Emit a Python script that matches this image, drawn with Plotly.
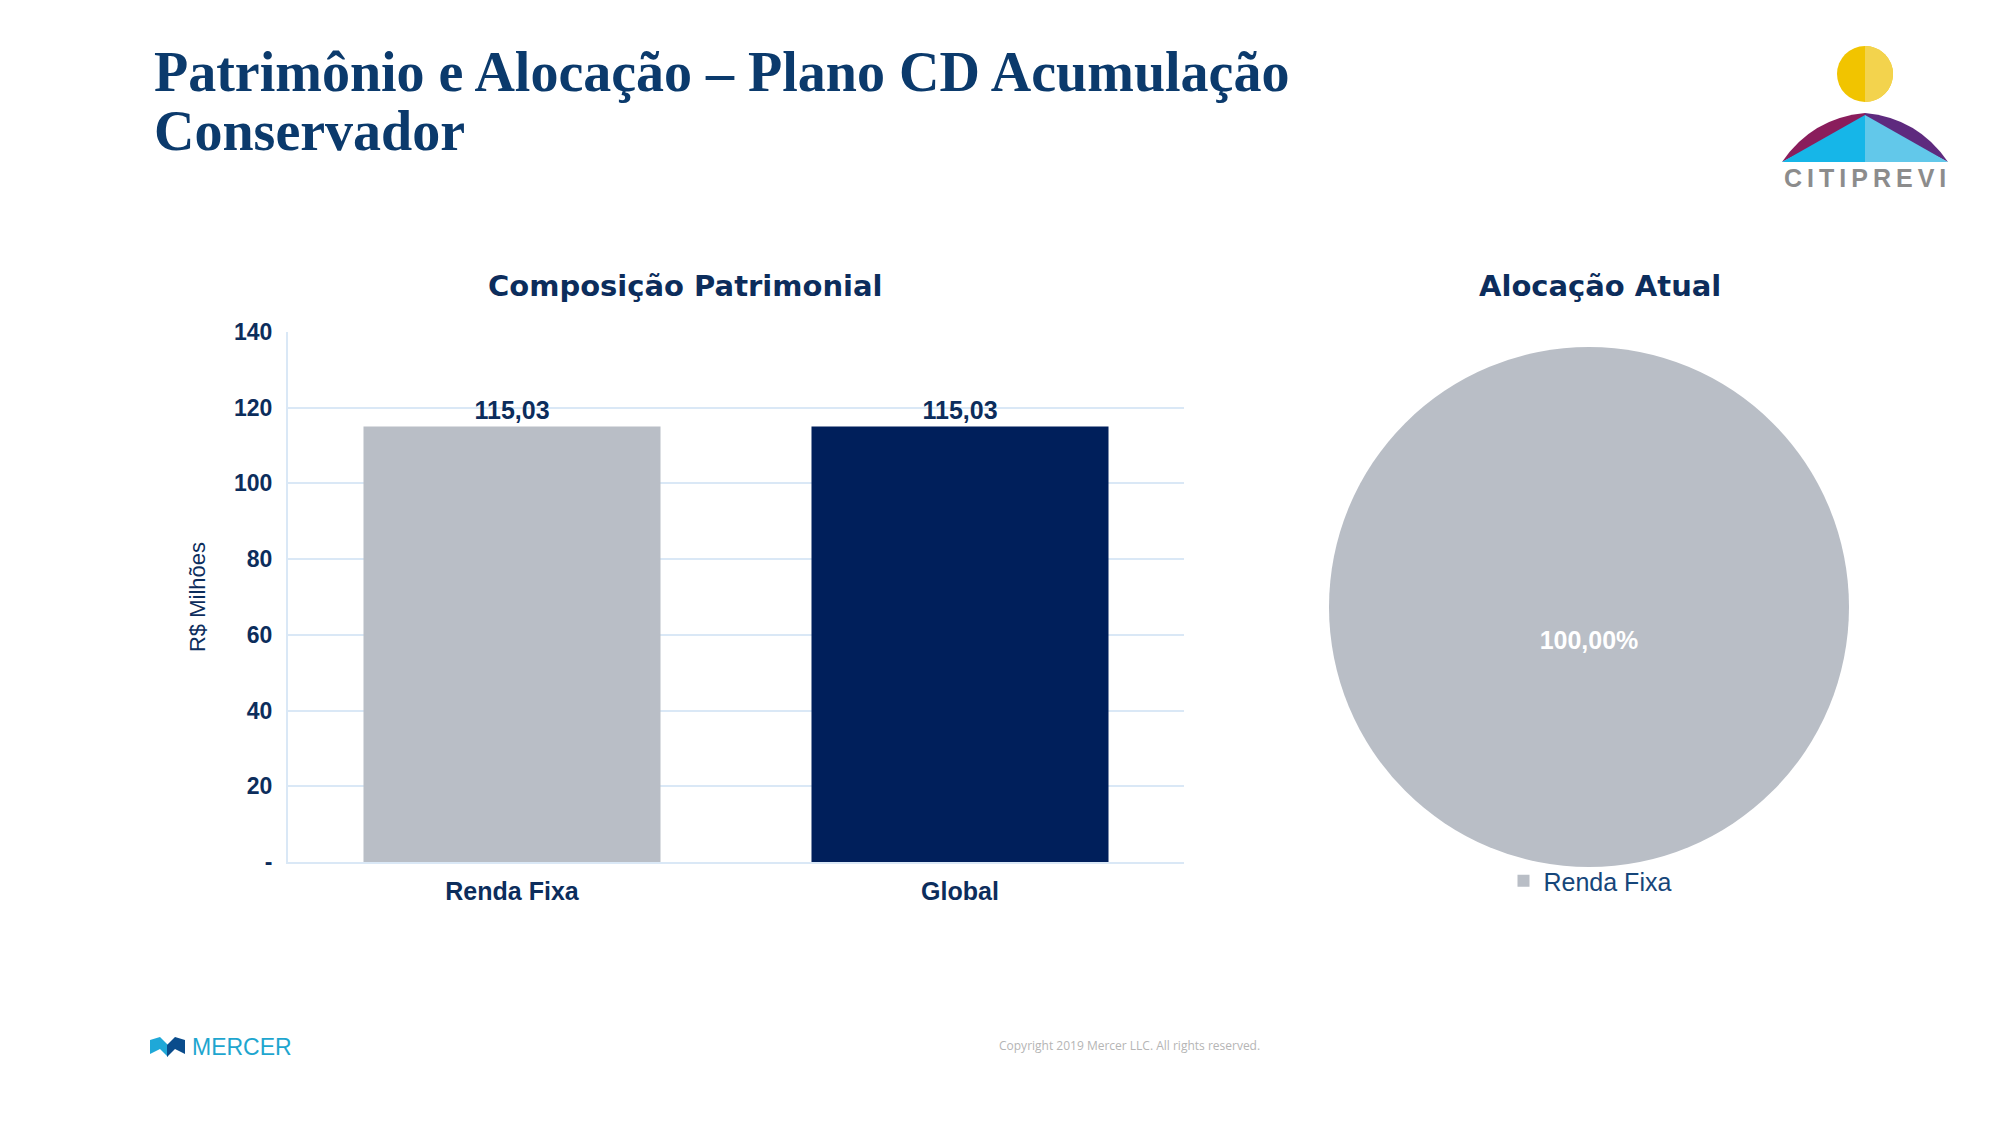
import plotly.graph_objects as go

# ---------------- data ----------------
bar_categories = ["Renda Fixa", "Global"]
bar_values = [115.03, 115.03]
pie_labels = ["Renda Fixa"]
pie_values = [115.03]
y_tickvals = [0, 20, 40, 60, 80, 100, 120, 140]
y_ticktext = ["-", "20", "40", "60", "80", "100", "120", "140"]

W, H = 2000, 1125
NAVY = "#0c2d5c"
TITLE_BLUE = "#0b3a6c"
GRAY_BAR = "#b9bec6"
DARK_BAR = "#001f5b"
GRID = "#dae8f6"
SANS = "Liberation Sans, Arial, sans-serif"
WIDE = "DejaVu Sans, sans-serif"


def px(x):
    return x / W


def py(y):
    return 1 - y / H


fig = go.Figure()

fig.add_trace(go.Bar(
    x=bar_categories,
    y=bar_values,
    marker=dict(color=[GRAY_BAR, DARK_BAR], line=dict(width=0)),
    texttemplate="%{y:.2f}",
    textposition="outside",
    cliponaxis=False,
    textfont=dict(family=SANS, size=25, color=NAVY, weight="bold"),
    showlegend=False,
    xaxis="x", yaxis="y",
))

NB = "\u00a0"
fig.add_trace(go.Pie(
    labels=pie_labels,
    values=pie_values,
    marker=dict(colors=[GRAY_BAR], line=dict(width=0)),
    texttemplate=NB + "<br>" + NB + "<br>%{percent:.2%}",
    textposition="inside",
    insidetextfont=dict(family=SANS, size=25, color="white", weight="bold"),
    sort=False,
    domain=dict(x=[px(1589 - 260), px(1589 + 260)], y=[py(607 + 260), py(607 - 260)]),
    showlegend=True,
    hoverinfo="label+percent",
))

shapes = []
# CITIPREVI logo (decorative)
shapes.append(dict(type="circle", xref="paper", yref="paper",
                   x0=px(1837), x1=px(1893), y0=py(102), y1=py(46),
                   fillcolor="#f1c400", line=dict(width=0)))
shapes.append(dict(type="path", xref="paper", yref="paper",
                   path=(f"M {px(1865)},{py(46)} "
                         f"C {px(1880.5)},{py(46)} {px(1893)},{py(58.5)} {px(1893)},{py(74)} "
                         f"C {px(1893)},{py(89.5)} {px(1880.5)},{py(102)} {px(1865)},{py(102)} Z"),
                   fillcolor="#f3d34d", line=dict(width=0)))
shapes.append(dict(type="path", xref="paper", yref="paper",
                   path=(f"M {px(1782)},{py(162)} Q {px(1812)},{py(118)} {px(1865)},{py(113)} "
                         f"L {px(1865)},{py(120)} Z"),
                   fillcolor="#8a1d5c", line=dict(width=0)))
shapes.append(dict(type="path", xref="paper", yref="paper",
                   path=(f"M {px(1948)},{py(162)} Q {px(1918)},{py(118)} {px(1865)},{py(113)} "
                         f"L {px(1865)},{py(120)} Z"),
                   fillcolor="#5e2a7e", line=dict(width=0)))
shapes.append(dict(type="path", xref="paper", yref="paper",
                   path=f"M {px(1782)},{py(162)} L {px(1865)},{py(115)} L {px(1865)},{py(162)} Z",
                   fillcolor="#16b6e8", line=dict(width=0)))
shapes.append(dict(type="path", xref="paper", yref="paper",
                   path=f"M {px(1948)},{py(162)} L {px(1865)},{py(115)} L {px(1865)},{py(162)} Z",
                   fillcolor="#62c8ea", line=dict(width=0)))
# Mercer icon
shapes.append(dict(type="path", xref="paper", yref="paper",
                   path=(f"M {px(150)},{py(1054)} L {px(150)},{py(1040)} L {px(160)},{py(1037)} "
                         f"L {px(168)},{py(1045)} L {px(168)},{py(1057)} L {px(160)},{py(1049)} Z"),
                   fillcolor="#1fa8d8", line=dict(width=0)))
shapes.append(dict(type="path", xref="paper", yref="paper",
                   path=(f"M {px(185)},{py(1054)} L {px(185)},{py(1040)} L {px(175)},{py(1037)} "
                         f"L {px(167)},{py(1045)} L {px(167)},{py(1057)} L {px(175)},{py(1049)} Z"),
                   fillcolor="#0a4c8c", line=dict(width=0)))

TH = "\u2009"
annotations = [
    dict(text="Patrimônio e Alocação – Plano CD Acumulação",
         x=px(152), y=py(72), xref="paper", yref="paper", xanchor="left", yanchor="middle",
         align="left", showarrow=False,
         font=dict(family="Liberation Serif, serif", size=56, color=TITLE_BLUE, weight="bold")),
    dict(text="Conservador",
         x=px(152), y=py(131), xref="paper", yref="paper", xanchor="left", yanchor="middle",
         align="left", showarrow=False,
         font=dict(family="Liberation Serif, serif", size=56, color=TITLE_BLUE, weight="bold")),
    dict(text="Composição Patrimonial", x=px(685), y=py(286), xref="paper", yref="paper",
         xanchor="center", yanchor="middle", showarrow=False,
         font=dict(family=WIDE, size=29, color=NAVY, weight="bold")),
    dict(text="Alocação Atual", x=px(1600), y=py(286), xref="paper", yref="paper",
         xanchor="center", yanchor="middle", showarrow=False,
         font=dict(family=WIDE, size=29, color=NAVY, weight="bold")),
    dict(text=TH.join("CITIPREVI"), x=px(1865), y=py(178), xref="paper", yref="paper",
         xanchor="center", yanchor="middle", showarrow=False,
         font=dict(family=SANS, size=25, color="#8c8c8c", weight="bold")),
    dict(text="MERCER", x=px(190), y=py(1047), xref="paper", yref="paper",
         xanchor="left", yanchor="middle", showarrow=False,
         font=dict(family=SANS, size=23, color="#1ea6cf")),
    dict(text="Copyright 2019 Mercer LLC. All rights reserved.", x=px(1129), y=py(1045),
         xref="paper", yref="paper", xanchor="center", yanchor="middle", showarrow=False,
         font=dict(family="Open Sans, sans-serif", size=12, color="#b5b5b5")),
]

fig.update_layout(
    width=W, height=H,
    margin=dict(l=0, r=0, t=0, b=0, autoexpand=False),
    paper_bgcolor="white", plot_bgcolor="white",
    separators=",.",
    bargap=0.337,
    xaxis=dict(domain=[px(288), px(1184)], showgrid=False, showline=True, automargin=False,
               linecolor=GRID, linewidth=2, ticks="outside", ticklen=6,
               tickcolor="rgba(0,0,0,0)",
               tickfont=dict(family=SANS, size=25, color=NAVY, weight="bold")),
    yaxis=dict(domain=[py(862), py(332)], range=[0, 140], tickvals=y_tickvals,
               ticktext=y_ticktext, showgrid=True, gridcolor=GRID, gridwidth=2,
               zeroline=False, showline=True, linecolor=GRID, linewidth=2, automargin=False,
               ticks="outside", ticklen=9, tickcolor="rgba(0,0,0,0)",
               tickfont=dict(family=SANS, size=23, color=NAVY, weight="bold"),
               title=dict(text="R$ Milhões", standoff=22,
                          font=dict(family=SANS, size=22, color=NAVY))),
    legend=dict(x=px(1590), y=py(881), xanchor="center", yanchor="middle",
                orientation="h", bgcolor="rgba(0,0,0,0)",
                font=dict(family=SANS, size=25, color="#16467a"),
                itemwidth=30),
    shapes=shapes,
    annotations=annotations,
)

fig.write_html("out.html", config={"displayModeBar": False},
               post_script="document.body.style.margin='0px';")
